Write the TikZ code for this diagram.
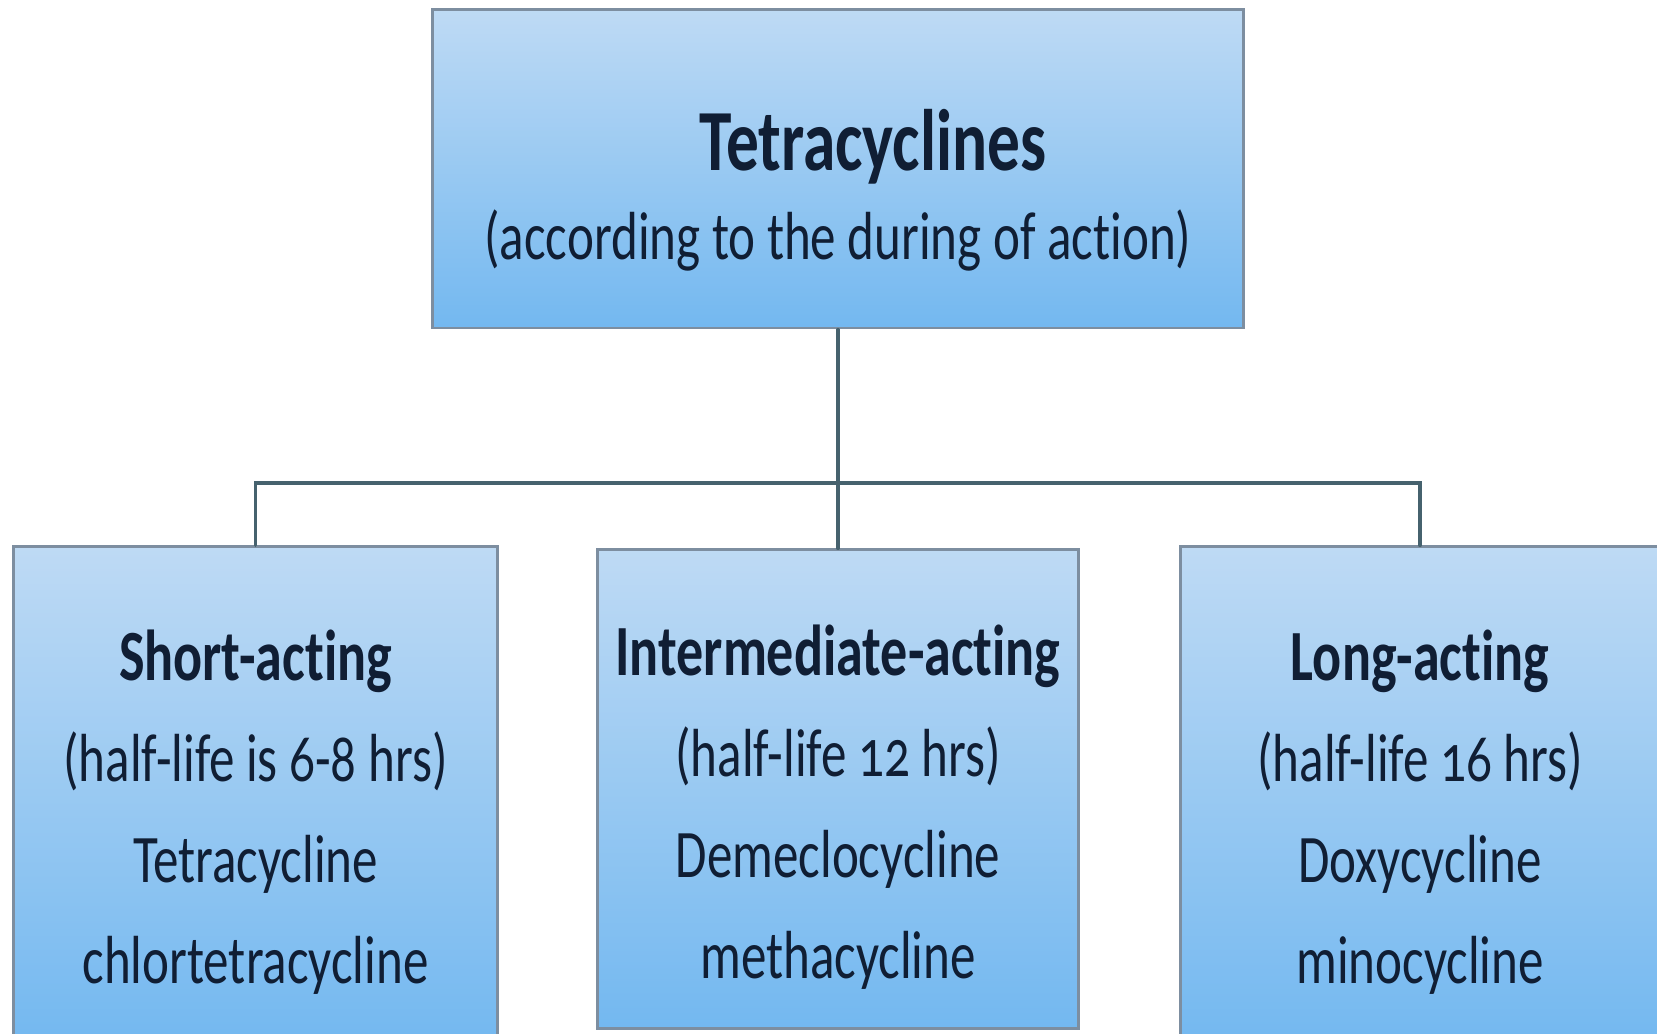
\documentclass[tikz,border=0pt]{standalone}
\usepackage{fontspec}
\setmainfont[FakeStretch=0.75,Ligatures=NoCommon,Numbers=OldStyle]{Carlito}
\usepackage{tikz}

\begin{document}
\begin{tikzpicture}
		[x=0.01cm,y=-0.01cm,line cap=round,
		%Styles
		box/.style={rectangle,inner sep=0pt,draw=boxedge,line width=0.8pt,
			top color=boxtop,bottom color=boxbottom},
		connector/.style={draw=linecolor,line width=0.9pt},
		box text/.style={align=center,text=textcolor,inner sep=0pt,
			font=\fontsize{19.35pt}{28.7pt}\selectfont},
		top text/.style={align=center,text=textcolor,inner sep=0pt,
			font=\fontsize{19.35pt}{25.3pt}\selectfont}
		]
		
		%Colors
		\definecolor{boxtop}{RGB}{190,218,244}
		\definecolor{boxbottom}{RGB}{115,184,240}
		\definecolor{boxedge}{RGB}{125,142,160}
		\definecolor{linecolor}{RGB}{70,98,110}
		\definecolor{textcolor}{RGB}{16,30,52}
		
		%Heading font
		\newcommand{\headfont}{\fontsize{20.5pt}{28.7pt}\selectfont\bfseries}
		
		\useasboundingbox[fill=white] (0,0) rectangle (1657,1034);
		
		%The graphic
		\node[box,minimum width=8.10cm,minimum height=3.18cm] (top) at (838,169) {};
		\node[box,minimum width=4.83cm,minimum height=4.98cm] (short) at (255.5,796) {};
		\node[box,minimum width=4.80cm,minimum height=4.78cm] (mid) at (838,789) {};
		\node[box,minimum width=4.78cm,minimum height=4.98cm] (long) at (1420,796) {};
		
		\coordinate (bus) at (838,483);
		\draw[connector] (top.south) -- (bus);
		\draw[connector] (short.north) |- (bus) -| (long.north);
		\draw[connector] (bus) -- (mid.north);
		
		\node[top text] (toptext) at (838,190)
			{\hspace*{0.7cm}{\fontsize{24.8pt}{25.3pt}\selectfont\bfseries Tetracyclines}\\(according to the during of action)};
		\node[box text] (shorttext) at (255.5,812)
			{{\headfont Short-acting}\\(half-life is 6-8 hrs)\\Tetracycline\\chlortetracycline};
		\node[box text] (midtext) at (838,807)
			{{\headfont Intermediate-acting}\\(half-life 12 hrs)\\Demeclocycline\\methacycline};
		\node[box text] (longtext) at (1420,812)
			{{\headfont Long-acting}\\(half-life 16 hrs)\\Doxycycline\\minocycline};
	\end{tikzpicture}
\end{document}
